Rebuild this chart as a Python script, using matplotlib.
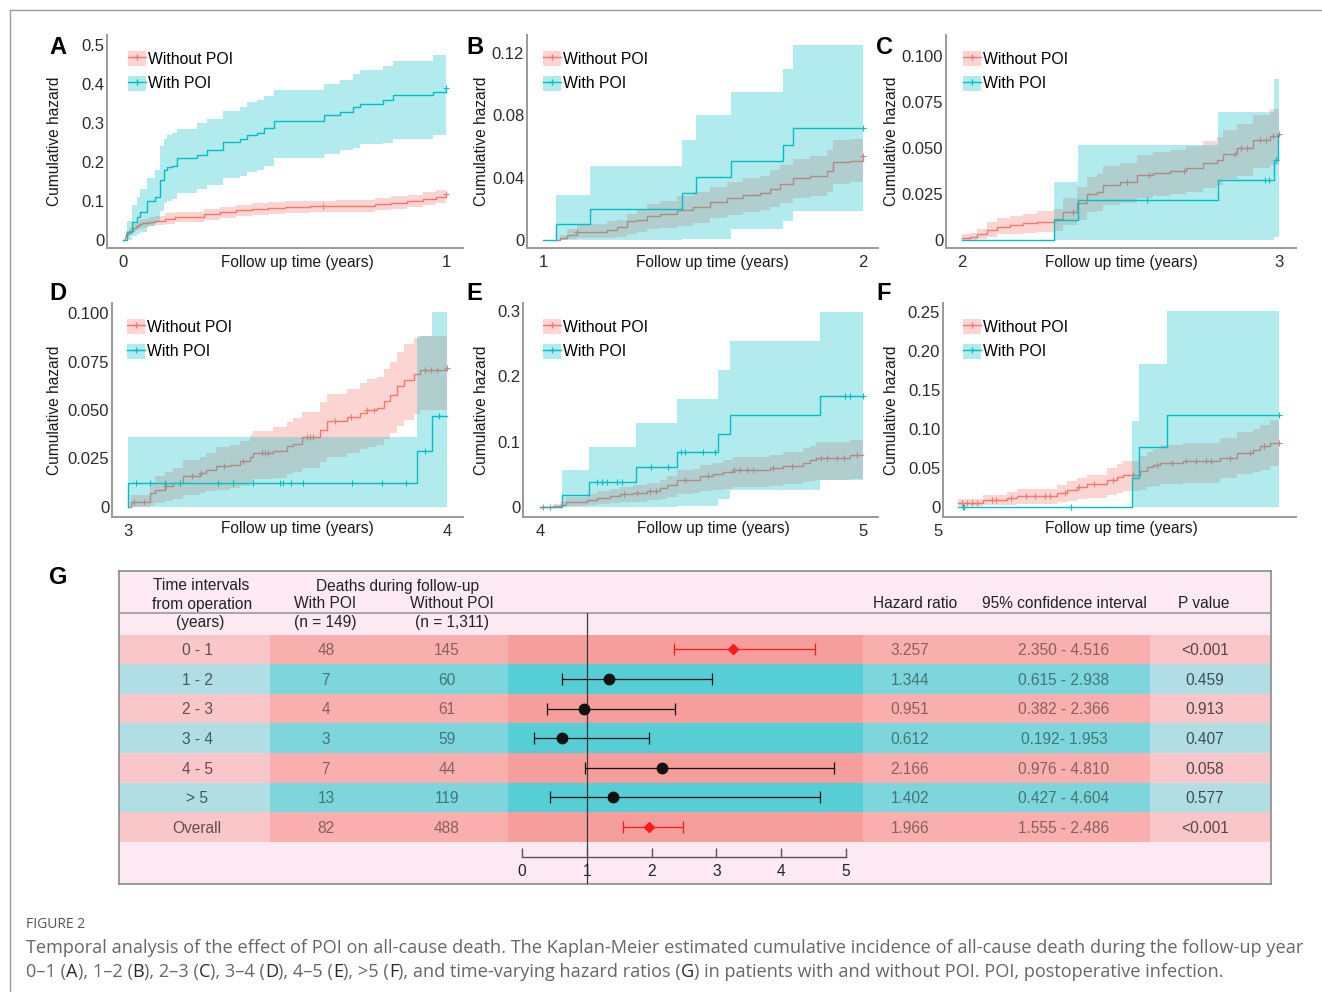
import numpy as np
import matplotlib
matplotlib.use("Agg")
import matplotlib.pyplot as plt
from matplotlib.patches import Patch, Rectangle
from matplotlib.lines import Line2D

plt.rcParams['font.family'] = ['Liberation Sans', 'DejaVu Sans']

# ---------------- Kaplan-Meier cumulative hazard curves ----------------
# Panel A: follow-up year 0-1
A_red_t = [0, 0.005, 0.01, 0.02, 0.03, 0.04, 0.05, 0.06, 0.08, 0.10, 0.13, 0.16, 0.20, 0.25,
           0.30, 0.35, 0.40, 0.45, 0.50, 0.58, 0.66, 0.72, 0.78, 0.83, 0.88, 0.93, 0.97, 1.0]
A_red_v = [0, 0.008, 0.015, 0.024, 0.031, 0.036, 0.040, 0.043, 0.047, 0.050, 0.055, 0.058, 0.060, 0.066,
           0.071, 0.076, 0.079, 0.082, 0.084, 0.086, 0.087, 0.088, 0.092, 0.096, 0.100, 0.106, 0.111, 0.117]
A_red_lo = [0, 0.002, 0.007, 0.014, 0.020, 0.025, 0.028, 0.031, 0.035, 0.038, 0.042, 0.045, 0.047, 0.052,
            0.057, 0.061, 0.064, 0.067, 0.069, 0.071, 0.072, 0.073, 0.076, 0.080, 0.084, 0.089, 0.094, 0.099]
A_red_hi = [0, 0.014, 0.023, 0.034, 0.042, 0.047, 0.052, 0.055, 0.059, 0.062, 0.068, 0.071, 0.073, 0.080,
            0.085, 0.091, 0.094, 0.097, 0.099, 0.101, 0.102, 0.103, 0.108, 0.112, 0.116, 0.123, 0.128, 0.136]
A_red_cens = [0.62, 1.0]
A_cyan_t = [0, 0.012, 0.028, 0.043, 0.054, 0.074, 0.100, 0.115, 0.126, 0.136, 0.152, 0.167, 0.229, 0.260,
            0.311, 0.363, 0.384, 0.414, 0.435, 0.466, 0.621, 0.672, 0.713, 0.734, 0.806, 0.837, 0.961, 1.0]
A_cyan_v = [0, 0.020, 0.047, 0.060, 0.073, 0.100, 0.110, 0.154, 0.180, 0.188, 0.190, 0.210, 0.218, 0.230,
            0.252, 0.260, 0.270, 0.274, 0.286, 0.306, 0.320, 0.329, 0.340, 0.350, 0.359, 0.372, 0.380, 0.391]
A_cyan_lo = [0, 0, 0.010, 0.015, 0.020, 0.035, 0.045, 0.075, 0.095, 0.100, 0.105, 0.120, 0.130, 0.140,
             0.160, 0.165, 0.175, 0.180, 0.190, 0.210, 0.220, 0.230, 0.235, 0.245, 0.250, 0.260, 0.270, 0.280]
A_cyan_hi = [0, 0.050, 0.090, 0.110, 0.130, 0.160, 0.180, 0.240, 0.260, 0.270, 0.275, 0.285, 0.300, 0.310,
             0.330, 0.340, 0.355, 0.360, 0.370, 0.385, 0.400, 0.410, 0.425, 0.435, 0.445, 0.460, 0.475, 0.500]
A_cyan_cens = [1.0]

# Panel B: follow-up year 1-2
B_red_t = [1.041, 1.054, 1.075, 1.106, 1.200, 1.231, 1.262, 1.293, 1.324, 1.366, 1.418, 1.470,
           1.522, 1.574, 1.626, 1.678, 1.709, 1.740, 1.782, 1.834, 1.886, 1.906, 1.958, 2.0]
B_red_v = [0, 0.001, 0.003, 0.005, 0.0064, 0.0085, 0.012, 0.013, 0.0156, 0.017, 0.019, 0.021,
           0.0245, 0.027, 0.029, 0.030, 0.033, 0.036, 0.040, 0.041, 0.044, 0.050, 0.051, 0.054]
B_red_lo = [0, 0, 0.0005, 0.001, 0.0012, 0.002, 0.004, 0.005, 0.007, 0.008, 0.009, 0.011,
            0.014, 0.016, 0.018, 0.019, 0.021, 0.024, 0.027, 0.028, 0.031, 0.036, 0.037, 0.039]
B_red_hi = [0, 0.003, 0.007, 0.010, 0.012, 0.013, 0.017, 0.020, 0.023, 0.025, 0.028, 0.031,
            0.034, 0.037, 0.040, 0.041, 0.045, 0.048, 0.052, 0.054, 0.058, 0.064, 0.065, 0.066]
B_red_cens = [1.106, 2.0]
B_cyan_t = [1.0, 1.040, 1.146, 1.434, 1.478, 1.589, 1.750, 1.782, 2.0]
B_cyan_v = [0, 0.0102, 0.020, 0.030, 0.0406, 0.0506, 0.061, 0.0717, 0.0717]
B_cyan_lo = [0, 0, 0, 0.0004, 0.0004, 0.0068, 0.012, 0.0186, 0.0186]
B_cyan_hi = [0, 0.029, 0.0476, 0.064, 0.080, 0.095, 0.110, 0.125, 0.125]
B_cyan_cens = [2.0]

# Panel C: follow-up year 2-3
C_red_t = [2.0, 2.026, 2.047, 2.079, 2.110, 2.152, 2.194, 2.236, 2.289, 2.320, 2.362, 2.393, 2.425,
           2.446, 2.498, 2.551, 2.603, 2.656, 2.708, 2.761, 2.803, 2.824, 2.866, 2.918, 2.971, 3.0]
C_red_v = [0.001, 0.0018, 0.003, 0.0054, 0.0072, 0.008, 0.009, 0.010, 0.0112, 0.0154, 0.020, 0.0248, 0.0263,
           0.030, 0.0317, 0.0353, 0.0366, 0.0375, 0.039, 0.0417, 0.0435, 0.047, 0.0498, 0.0543, 0.0565, 0.0574]
C_red_lo = [0, 0, 0.0005, 0.0015, 0.003, 0.0035, 0.004, 0.0045, 0.005, 0.008, 0.011, 0.015, 0.016,
            0.019, 0.020, 0.023, 0.024, 0.025, 0.026, 0.028, 0.030, 0.033, 0.035, 0.039, 0.041, 0.042]
C_red_hi = [0.003, 0.004, 0.006, 0.010, 0.012, 0.013, 0.014, 0.016, 0.017, 0.023, 0.029, 0.034, 0.036,
            0.040, 0.042, 0.046, 0.048, 0.049, 0.051, 0.054, 0.056, 0.060, 0.063, 0.068, 0.071, 0.072]
C_red_cens = [2.35, 2.52, 2.59, 2.70, 2.86, 2.88, 2.90, 2.94, 2.96, 2.98, 3.0]
C_cyan_t = [2.0, 2.291, 2.367, 2.808, 2.984, 2.997, 3.0]
C_cyan_v = [0, 0.0109, 0.0217, 0.0326, 0.0435, 0.057, 0.057]
C_cyan_lo = [0, 0, 0, 0, 0.0015, 0.0015, 0.0015]
C_cyan_hi = [0, 0.0315, 0.0515, 0.0694, 0.0873, 0.0873, 0.0873]
C_cyan_cens = [2.585, 2.955, 2.97, 2.99]

# Panel D: follow-up year 3-4
D_red_t = [3.0, 3.010, 3.068, 3.084, 3.115, 3.141, 3.173, 3.225, 3.246, 3.277, 3.319, 3.351, 3.382,
           3.393, 3.455, 3.497, 3.518, 3.545, 3.602, 3.623, 3.686, 3.728, 3.749, 3.780, 3.801, 3.822,
           3.843, 3.864, 3.895, 3.916, 4.0]
D_red_v = [0, 0.0024, 0.0072, 0.009, 0.0107, 0.0124, 0.0158, 0.0175, 0.0192, 0.021, 0.0218, 0.0235, 0.026,
           0.0278, 0.0287, 0.0313, 0.0326, 0.036, 0.0399, 0.0442, 0.0464, 0.0485, 0.0502, 0.051, 0.0545,
           0.0579, 0.0622, 0.0656, 0.0687, 0.0708, 0.0716]
D_red_lo = [0, 0, 0.0012, 0.002, 0.003, 0.004, 0.006, 0.007, 0.008, 0.009, 0.010, 0.011, 0.013,
            0.0145, 0.015, 0.017, 0.018, 0.020, 0.023, 0.026, 0.028, 0.030, 0.031, 0.032, 0.035,
            0.038, 0.042, 0.045, 0.048, 0.050, 0.052]
D_red_hi = [0, 0.006, 0.013, 0.016, 0.018, 0.020, 0.024, 0.026, 0.028, 0.031, 0.032, 0.034, 0.037,
            0.039, 0.041, 0.044, 0.046, 0.049, 0.054, 0.058, 0.061, 0.064, 0.066, 0.067, 0.071,
            0.075, 0.080, 0.084, 0.087, 0.088, 0.089]
D_red_cens = [3.02, 3.05, 3.12, 3.20, 3.23, 3.30, 3.36, 3.42, 3.43, 3.44, 3.56, 3.57, 3.58,
              3.65, 3.70, 3.75, 3.77, 3.93, 3.95, 3.97, 4.0]
D_cyan_t = [3.0, 3.001, 3.906, 3.953, 4.0]
D_cyan_v = [0, 0.0122, 0.029, 0.047, 0.047]
D_cyan_lo = [0, 0, 0, 0, 0]
D_cyan_hi = [0, 0.0359, 0.088, 0.1005, 0.1005]
D_cyan_cens = [3.026, 3.068, 3.115, 3.162, 3.283, 3.330, 3.393, 3.477, 3.485, 3.511, 3.550,
               3.702, 3.796, 3.872, 3.932, 3.974]

# Panel E: follow-up year 4-5
E_red_t = [4.0, 4.041, 4.062, 4.082, 4.144, 4.175, 4.216, 4.247, 4.289, 4.330, 4.371, 4.392, 4.423,
           4.474, 4.495, 4.536, 4.567, 4.598, 4.711, 4.753, 4.814, 4.835, 4.856, 4.959, 5.0]
E_red_v = [0, 0.001, 0.003, 0.008, 0.0107, 0.0137, 0.0173, 0.0198, 0.021, 0.0244, 0.0285, 0.0336, 0.041,
           0.042, 0.0468, 0.0498, 0.0529, 0.056, 0.0595, 0.063, 0.068, 0.0712, 0.0752, 0.079, 0.0793]
E_red_lo = [0, 0, 0, 0.002, 0.003, 0.004, 0.006, 0.007, 0.008, 0.010, 0.013, 0.016, 0.020,
            0.021, 0.024, 0.026, 0.028, 0.030, 0.032, 0.035, 0.038, 0.040, 0.042, 0.043, 0.043]
E_red_hi = [0, 0.004, 0.009, 0.016, 0.020, 0.024, 0.028, 0.031, 0.033, 0.037, 0.042, 0.048, 0.057,
            0.058, 0.064, 0.068, 0.072, 0.076, 0.080, 0.084, 0.090, 0.094, 0.099, 0.103, 0.103]
E_red_cens = [4.01, 4.03, 4.26, 4.30, 4.34, 4.36, 4.45, 4.52, 4.60, 4.62, 4.64, 4.66, 4.72,
              4.78, 4.87, 4.89, 4.92, 4.94, 4.98]
E_cyan_t = [4.0, 4.067, 4.153, 4.296, 4.423, 4.552, 4.588, 4.866, 5.0]
E_cyan_v = [0, 0.019, 0.039, 0.0605, 0.084, 0.1123, 0.1403, 0.1703, 0.1703]
E_cyan_lo = [0, 0, 0, 0, 0.001, 0.0127, 0.0264, 0.0417, 0.0417]
E_cyan_hi = [0, 0.0564, 0.0915, 0.1286, 0.166, 0.2095, 0.2537, 0.2985, 0.2985]
E_cyan_cens = [4.175, 4.191, 4.206, 4.237, 4.253, 4.345, 4.397, 4.438, 4.448, 4.505, 4.541,
               4.943, 4.959, 5.0]

# Panel F: follow-up beyond year 5
F_red_t = [5.418, 5.930, 6.410, 6.615, 7.437, 7.642, 7.848, 8.053, 8.464, 8.670, 8.807,
           9.149, 9.285, 9.422, 9.559, 10.038, 10.791, 11.133, 11.476, 11.613, 11.818, 12.0]
F_red_v = [0.005, 0.0085, 0.0115, 0.0145, 0.018, 0.022, 0.0256, 0.029, 0.035, 0.039, 0.0415,
           0.0457, 0.051, 0.054, 0.057, 0.059, 0.063, 0.069, 0.0727, 0.0778, 0.082, 0.082]
F_red_lo = [0.0008, 0.002, 0.003, 0.004, 0.006, 0.008, 0.010, 0.012, 0.015, 0.018, 0.020,
            0.022, 0.025, 0.027, 0.029, 0.031, 0.037, 0.042, 0.045, 0.048, 0.052, 0.052]
F_red_hi = [0.010, 0.015, 0.019, 0.023, 0.028, 0.033, 0.037, 0.041, 0.050, 0.055, 0.059,
            0.065, 0.071, 0.075, 0.079, 0.082, 0.088, 0.096, 0.100, 0.105, 0.111, 0.111]
F_red_cens = [5.5, 5.6, 5.7, 5.8, 6.1, 6.2, 6.5, 6.8, 7.0, 7.2, 7.3, 7.6, 7.9, 8.2, 8.6,
              9.0, 9.5, 9.8, 10.1, 10.3, 10.5, 10.6, 11.0, 11.4, 11.7, 12.0]
F_cyan_t = [5.418, 8.977, 9.134, 9.695, 12.0]
F_cyan_v = [0, 0.0376, 0.0765, 0.1175, 0.1175]
F_cyan_lo = [0, 0, 0, 0, 0]
F_cyan_hi = [0, 0.1107, 0.1829, 0.2513, 0.2513]
F_cyan_cens = [5.506, 5.53, 7.724, 12.0]

# axis tick values and labels
A_yticks, A_ylabels = [0, 0.1, 0.2, 0.3, 0.4, 0.5], ["0", "0.1", "0.2", "0.3", "0.4", "0.5"]
B_yticks, B_ylabels = [0, 0.04, 0.08, 0.12], ["0", "0.04", "0.08", "0.12"]
C_yticks, C_ylabels = [0, 0.025, 0.05, 0.075, 0.1], ["0", "0.025", "0.050", "0.075", "0.100"]
D_yticks, D_ylabels = [0, 0.025, 0.05, 0.075, 0.1], ["0", "0.025", "0.050", "0.075", "0.100"]
E_yticks, E_ylabels = [0, 0.1, 0.2, 0.3], ["0", "0.1", "0.2", "0.3"]
F_yticks, F_ylabels = [0, 0.05, 0.10, 0.15, 0.20, 0.25], ["0", "0.05", "0.10", "0.15", "0.20", "0.25"]
A_xticks, B_xticks, C_xticks = [0, 1], [1, 2], [2, 3]
D_xticks, E_xticks, F_xticks = [3, 4], [4, 5], [5]

group_names = ["Without POI", "With POI"]

# ---------------- Time-varying hazard ratios (panel G) ----------------
intervals = ["0 - 1", "1 - 2", "2 - 3", "3 - 4", "4 - 5", "> 5", "Overall"]
deaths_poi = [48, 7, 4, 3, 7, 13, 82]
deaths_no_poi = [145, 60, 61, 59, 44, 119, 488]
hr = [3.257, 1.344, 0.951, 0.612, 2.166, 1.402, 1.966]
ci_lo = [2.350, 0.615, 0.382, 0.192, 0.976, 0.427, 1.555]
ci_hi = [4.516, 2.938, 2.366, 1.953, 4.810, 4.604, 2.486]
ci_sep = [" - ", " - ", " - ", "- ", " - ", " - ", " - "]
p_labels = ["<0.001", "0.459", "0.913", "0.407", "0.058", "0.577", "<0.001"]
hr_ticks = [0, 1, 2, 3, 4, 5]

caption_title = "FIGURE 2"
caption_line1 = ("Temporal analysis of the effect of POI on all-cause death. The Kaplan-Meier estimated "
                 "cumulative incidence of all-cause death during the follow-up year")
caption_line2 = [("0\u20131 (", False), ("A", True), ("), 1\u20132 (", False), ("B", True),
                 ("), 2\u20133 (", False), ("C", True), ("), 3\u20134 (", False), ("D", True),
                 ("), 4\u20135 (", False), ("E", True), ("), >5 (", False), ("F", True),
                 ("), and time-varying hazard ratios (", False), ("G", True),
                 (") in patients with and without POI. POI, postoperative infection.", False)]

# ---------------- styling ----------------
RED = '#F8766D'
CYAN = '#00BFC4'
BAND_ALPHA = 0.3
SPINE = '#9a9a9a'
TICKC = '#2b2b2b'
FS = 11
TICK_FS = 12

W, H = 1322, 992
fig = plt.figure(figsize=(W / 100, H / 100), dpi=100)
fig.patch.set_facecolor('white')


def px_axes(L, T, R, B):
    return fig.add_axes([L / W, 1 - B / H, (R - L) / W, (B - T) / H])


def lim_from_px(p_lo, p_hi, a_val, a_px, b_val, b_px):
    k = (b_val - a_val) / (b_px - a_px)
    return a_val + (p_lo - a_px) * k, a_val + (p_hi - a_px) * k


def step_value(t, v, c):
    idx = np.clip(np.searchsorted(np.asarray(t), np.asarray(c), side='right') - 1, 0, None)
    return np.asarray(v)[idx]


def km_panel(letter, box, xmap, ymap, red, cyan, xticks, yticks, ylabels,
             key_px, xlab_px, ylab_px, letter_px, manual_xtick=False):
    L, T, R, B = box
    ax = px_axes(L, T, R, B)
    ax.set_xlim(*lim_from_px(L, R, *xmap))
    ax.set_ylim(*lim_from_px(B, T, *ymap))
    # each stratum: ribbon, then step curve with censor marks (later strata drawn on top)
    z = 1
    for (t, v, lo, hi, cens), col in ((red, RED), (cyan, CYAN)):
        ax.fill_between(t, lo, hi, step='post', color=col, alpha=BAND_ALPHA, linewidth=0, zorder=z)
        ax.step(t, v, where='post', color=col, lw=1.0, zorder=z + 1)
        if len(cens):
            ax.plot(cens, step_value(t, v, cens), linestyle='none', marker='+',
                    ms=4, mew=0.8, color=col, zorder=z + 1)
        z += 2
    for s in ('top', 'right'):
        ax.spines[s].set_visible(False)
    for s in ('left', 'bottom'):
        ax.spines[s].set_color(SPINE)
        ax.spines[s].set_linewidth(1.4)
    ax.set_yticks(yticks)
    ax.set_yticklabels(ylabels)
    ax.tick_params(axis='y', length=0, pad=2, labelsize=TICK_FS, labelcolor=TICKC)
    ax.tick_params(axis='x', length=0, pad=5, labelsize=TICK_FS, labelcolor=TICKC)
    if manual_xtick:
        ax.set_xticks([])
        for xv in xticks:
            ax.annotate(str(xv), xy=(xv, 0), xycoords=('data', 'axes fraction'),
                        xytext=(0, -5), textcoords='offset points', ha='center', va='top',
                        fontsize=TICK_FS, color=TICKC, annotation_clip=False)
    else:
        ax.set_xticks(xticks)
        ax.set_xticklabels([str(x) for x in xticks])
    # legend
    handles = [(Patch(facecolor=RED, alpha=BAND_ALPHA, edgecolor='none'),
                Line2D([], [], color=RED, lw=1, marker='+', ms=5, mew=0.9)),
               (Patch(facecolor=CYAN, alpha=BAND_ALPHA, edgecolor='none'),
                Line2D([], [], color=CYAN, lw=1, marker='+', ms=5, mew=0.9))]
    kx, ky = key_px
    leg = ax.legend(handles, group_names, loc='upper left',
                    bbox_to_anchor=((kx - L) / (R - L), (B - ky) / (B - T)),
                    frameon=False, fontsize=11.3, handlelength=1.15, handleheight=1.1,
                    handletextpad=0.1, labelspacing=0.55, borderpad=0, borderaxespad=0)
    leg.set_zorder(10)
    fig.text(xlab_px[0] / W, 1 - xlab_px[1] / H, "Follow up time (years)", ha='center',
             va='center', fontsize=11.2, color='#1a1a1a')
    fig.text(ylab_px[0] / W, 1 - ylab_px[1] / H, "Cumulative hazard", ha='center',
             va='center', rotation=90, fontsize=11.2, color='#1a1a1a')
    fig.text(letter_px[0] / W, 1 - letter_px[1] / H, letter, ha='left', va='center',
             fontsize=17, fontweight='bold', color='black')
    return ax


km_panel("A", (107, 35, 463, 248), (0, 123, 1, 446), (0, 240, 0.5, 45),
         (A_red_t, A_red_v, A_red_lo, A_red_hi, A_red_cens),
         (A_cyan_t, A_cyan_v, A_cyan_lo, A_cyan_hi, A_cyan_cens),
         A_xticks, A_yticks, A_ylabels, (128, 51), (297, 262), (55, 141), (49, 48))
km_panel("B", (527, 35, 878, 248), (1, 543, 2, 863), (0, 240, 0.12, 53),
         (B_red_t, B_red_v, B_red_lo, B_red_hi, B_red_cens),
         (B_cyan_t, B_cyan_v, B_cyan_lo, B_cyan_hi, B_cyan_cens),
         B_xticks, B_yticks, B_ylabels, (543, 51), (712, 262), (481, 141), (466, 48))
km_panel("C", (946, 35, 1296, 248), (2, 962, 3, 1279), (0, 240, 0.1, 56),
         (C_red_t, C_red_v, C_red_lo, C_red_hi, C_red_cens),
         (C_cyan_t, C_cyan_v, C_cyan_lo, C_cyan_hi, C_cyan_cens),
         C_xticks, C_yticks, C_ylabels, (963, 51), (1121, 262), (891, 141), (876, 48))
km_panel("D", (112, 303, 463, 517), (3, 128, 4, 447), (0, 507, 0.1, 313),
         (D_red_t, D_red_v, D_red_lo, D_red_hi, D_red_cens),
         (D_cyan_t, D_cyan_v, D_cyan_lo, D_cyan_hi, D_cyan_cens),
         D_xticks, D_yticks, D_ylabels, (127, 319), (297, 529), (55, 410), (49, 293))
km_panel("E", (523, 303, 878, 517), (4, 540, 5, 863), (0, 507, 0.3, 311),
         (E_red_t, E_red_v, E_red_lo, E_red_hi, E_red_cens),
         (E_cyan_t, E_cyan_v, E_cyan_lo, E_cyan_hi, E_cyan_cens),
         E_xticks, E_yticks, E_ylabels, (543, 319), (713, 529), (481, 410), (466, 293))
km_panel("F", (943, 303, 1296, 517), (5, 938, 12, 1279), (0, 507, 0.25, 312),
         (F_red_t, F_red_v, F_red_lo, F_red_hi, F_red_cens),
         (F_cyan_t, F_cyan_v, F_cyan_lo, F_cyan_hi, F_cyan_cens),
         F_xticks, F_yticks, F_ylabels, (963, 319), (1121, 529), (891, 410), (876, 293),
         manual_xtick=True)

# ---------------- panel G: table with forest plot ----------------
G_BG = '#FCE9F1'
PINKS = ['#F9C6C9', '#F8AFAE', '#F69E9B']
CYANS = ['#B1DEE4', '#7CD6DB', '#56CED5']
col_edges = [119, 270, 508, 863, 1150, 1271]
col_shade = [0, 1, 2, 1, 0]
row_top0, row_h = 634.5, 29.6

tab = px_axes(119, 571, 1271, 884)
tab.set_xlim(119, 1271)
tab.set_ylim(884, 571)
tab.set_facecolor(G_BG)
tab.set_xticks([])
tab.set_yticks([])
for s in tab.spines.values():
    s.set_color('#8c8c8c')
    s.set_linewidth(1.2)

for i in range(len(intervals)):
    pal = PINKS if i % 2 == 0 else CYANS
    y0 = row_top0 + i * row_h
    for j in range(5):
        tab.add_patch(Rectangle((col_edges[j], y0), col_edges[j + 1] - col_edges[j], row_h,
                                facecolor=pal[col_shade[j]], edgecolor='none'))
tab.plot([119, 1271], [613, 613], color='#9a9a9a', lw=1.2)

hdr = dict(ha='center', va='center', fontsize=11.2, color='#222222')
tab.text(201, 586, "Time intervals", **hdr)
tab.text(202, 604, "from operation", **hdr)
tab.text(200, 623, "(years)", **hdr)
tab.text(398, 586, "Deaths during follow-up", **hdr)
tab.text(325, 604, "With POI", **hdr)
tab.text(325, 623, "(n = 149)", **hdr)
tab.text(452, 604, "Without POI", **hdr)
tab.text(452, 623, "(n = 1,311)", **hdr)
tab.text(915, 604, "Hazard ratio", **hdr)
tab.text(1064, 604, "95% confidence interval", **hdr)
tab.text(1204, 604, "P value", **hdr)

for i in range(len(intervals)):
    yc = row_top0 + (i + 0.5) * row_h
    cell = dict(ha='center', va='center_baseline', fontsize=11.2, color='black')
    tab.text(197, yc, intervals[i], alpha=0.6, **cell)
    tab.text(326, yc, str(deaths_poi[i]), alpha=0.45, **cell)
    tab.text(447, yc, str(deaths_no_poi[i]), alpha=0.45, **cell)
    tab.text(910, yc, f"{hr[i]:.3f}", alpha=0.45, **cell)
    tab.text(1064, yc, f"{ci_lo[i]:.3f}{ci_sep[i]}{ci_hi[i]:.3f}", alpha=0.45, **cell)
    tab.text(1205, yc, p_labels[i], alpha=0.65, **cell)

fp = px_axes(508, 613, 863, 884)
fp.patch.set_alpha(0)
fp.axis('off')
fp.set_xlim(*lim_from_px(508, 863, 0, 522, 5, 846))
fp.set_ylim(*lim_from_px(884, 613, 0, row_top0 + 0.5 * row_h, 1, row_top0 + 1.5 * row_h))
fp.axvline(1, color='#3a3a3a', lw=0.9, zorder=1)

for i in range(len(hr)):
    significant = ci_lo[i] > 1
    col = '#FF1A1A' if significant else '#111111'
    fp.errorbar(hr[i], i, xerr=[[hr[i] - ci_lo[i]], [ci_hi[i] - hr[i]]],
                fmt='D' if significant else 'o', ms=5 if significant else 7.5,
                color=col, ecolor=col, elinewidth=0.9, capsize=4, capthick=0.9, zorder=3)


def px_to_row(p):
    return (p - (row_top0 + 0.5 * row_h)) / row_h


axis_y = px_to_row(857)
tick_top = px_to_row(848)
label_y = px_to_row(871)
fp.plot([hr_ticks[0], hr_ticks[-1]], [axis_y, axis_y], color='#555555', lw=1.0)
fp.vlines(hr_ticks, axis_y, tick_top, color='#555555', lw=1.0)
for tv in hr_ticks:
    fp.text(tv, label_y, str(tv), ha='center', va='center', fontsize=11.2, color='#222222')

fig.text(49 / W, 1 - 578 / H, "G", ha='left', va='center', fontsize=17, fontweight='bold')

# ---------------- frame and caption ----------------
fig.add_artist(Line2D([10 / W, 10 / W], [0, 1 - 10 / H], color='#9a9a9a', lw=1.0))
fig.add_artist(Line2D([10 / W, 1], [1 - 10 / H, 1 - 10 / H], color='#9a9a9a', lw=1.0))

CAP = '#666666'
fig.text(26 / W, 1 - 925 / H, caption_title, ha='left', va='center', fontsize=10,
         color='#555555', family=['Open Sans', 'DejaVu Sans'])
t1 = fig.text(26 / W, 1 - 948 / H, caption_line1, ha='left', va='center', fontsize=11.5,
              color=CAP, family=['Open Sans', 'DejaVu Sans'])
fig.canvas.draw()
renderer = fig.canvas.get_renderer()
cap_fs = 11.5 * 1282 / t1.get_window_extent(renderer).width
t1.set_fontsize(cap_fs)

x_px = 26.0
for piece, emphasised in caption_line2:
    tt = fig.text(x_px / W, 1 - 972 / H, piece, ha='left', va='center', fontsize=cap_fs,
                  color='#2a2a2a' if emphasised else CAP,
                  family=['Open Sans', 'DejaVu Sans'])
    x_px += tt.get_window_extent(renderer).width

fig.savefig('out.png', dpi=100)
